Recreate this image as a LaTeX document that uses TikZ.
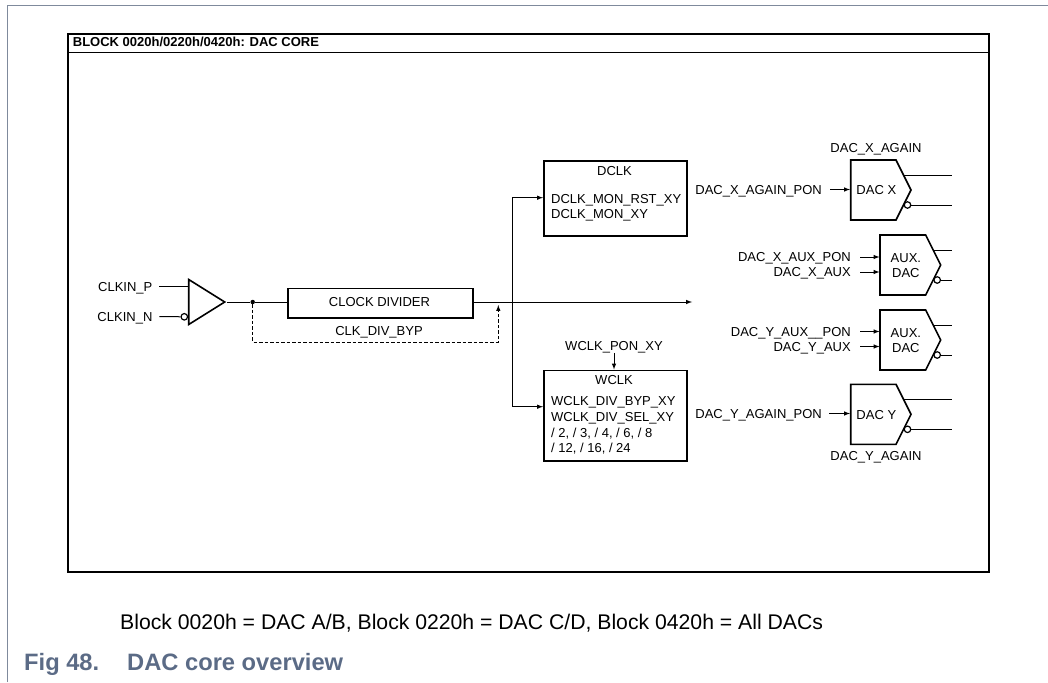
\documentclass[tikz,border=0pt]{standalone}
\usepackage{fontspec}
\setmainfont{Liberation Sans}
\usetikzlibrary{shapes.geometric}

\definecolor{capblue}{HTML}{5B6B86}
\definecolor{pagegray}{HTML}{7F8A9C}

\tikzset{
  lbl/.style={inner sep=0pt,font=\fontsize{13}{13}\selectfont,text height=9.4pt,text depth=0pt},
  lblr/.style={lbl,anchor=east},
  lbll/.style={lbl,anchor=west},
  box/.style={draw,line width=1.6pt,inner sep=0pt},
  bubble/.style={draw,circle,line width=1.2pt,fill=white,minimum size=6.5pt,inner sep=0pt},
  wire/.style={line width=1pt},
  dacbox/.style={inner sep=0pt,align=center,font=\fontsize{13}{15}\selectfont},
  captxt/.style={anchor=base west,inner sep=0pt,text=capblue,font=\fontsize{23.7}{25}\bfseries\selectfont},
}

% pentagon with two outputs: name, left x, top y, width, text
\newcommand{\dacshape}[5]{
  \draw[line width=1.6pt] (#2,#3) -- ++(#4-15,0) -- ++(15,30) -- ++(-15,30) -- ++(15-#4,0) -- cycle;
  \node[dacbox] (#1) at (#2+#4/2-4.5,#3+30.5) {#5};
  \coordinate (#1w) at (#2,#3+30);
  \coordinate (#1p) at (#2+#4-7,#3+15);
  \coordinate (#1n) at (#2+#4-3.5,#3+45);
  \node[bubble] (#1b) at (#1n) {};
}

\begin{document}
\begin{tikzpicture}[>=latex,x=1pt,y=-1pt]
\useasboundingbox (0,0) rectangle (1048,682);

% page edge
\draw[pagegray,line width=1.4pt] (7.3,682) -- (7.3,5.7) -- (1048,5.7);

% block frame
\node[box,anchor=north west,minimum width=921pt,minimum height=538pt] (frame) at (67.3,33.3) {};
\coordinate (divl) at (67.3,52.7);
\coordinate (divr) at (988.3,52.7);
\draw[line width=1.6pt] (divl) -- (divr);
\node[anchor=base west,inner sep=0pt,font=\fontsize{13}{13}\bfseries\selectfont] (title) at (72.7,47) {BLOCK 0020h/0220h/0420h: DAC CORE};

% input buffer
\node[draw,isosceles triangle,isosceles triangle stretches,minimum width=45pt,minimum height=36pt,inner sep=0pt,line width=1.6pt,anchor=apex] (buf) at (226.8,302) {};
\node[lblr] (clkinp) at (152.6,286.5) {CLKIN\_P};
\node[lblr] (clkinn) at (152.6,316.5) {CLKIN\_N};
\coordinate (bufp) at (189.3,286.5);
\node[bubble] (bufn) at (184.3,316.8) {};
\draw[wire,shorten <=6.7pt] (clkinp.east) -- (bufp);
\draw[wire,shorten <=6.7pt] (clkinn.east) -- (bufn);

% clock divider
\node[box,anchor=north west,minimum width=184.7pt,minimum height=29.6pt] (clkdiv) at (287.3,287.7) {};
\node[lbl] (clkdivt) at (379.5,301.5) {CLOCK DIVIDER};
\node[lbl] (clkbyp) at (379,331) {CLK\_DIV\_BYP};
\node[circle,fill,minimum size=4.5pt,inner sep=0pt] (split) at (252.7,302) {};
\coordinate (merge) at (498.3,302);
\coordinate (midend) at (692,302);
\coordinate (fork) at (512.7,302);
\draw[wire] (buf.apex) -- (split) -- (clkdiv.west |- split);
\draw[wire,->] (clkdiv.east |- split) -- (midend);
\draw[wire,dashed,->,dash pattern=on 3.5pt off 2pt] (split) |- (498.3,342) -- (498.3,305);

% dclk and wclk
\node[box,anchor=north west,minimum width=143pt,minimum height=75pt] (dclk) at (543,160) {};
\node[box,anchor=north west,minimum width=143pt,minimum height=90.5pt] (wclk) at (543,369.5) {};
\draw[wire,<->] (dclk.west |- 0,197.7) -- (512.7,197.7) -- (512.7,406.7) -- (wclk.west |- 0,406.7);

\node[lbl] (dclkt) at (614.5,171) {DCLK};
\node[lbll] (dclkrst) at (551,199) {DCLK\_MON\_RST\_XY};
\node[lbll] (dclkmon) at (551,214) {DCLK\_MON\_XY};
\node[lbl] (wclkpon) at (614,346) {WCLK\_PON\_XY};
\node[lbl] (wclkt) at (614,380) {WCLK};
\node[lbll] (wclkbyp) at (551,401) {WCLK\_DIV\_BYP\_XY};
\node[lbll] (wclksel) at (551,417) {WCLK\_DIV\_SEL\_XY};
\node[lbll] (wclkdiva) at (551,433) {/ 2, / 3, / 4, / 6, / 8};
\node[lbll] (wclkdivb) at (551,448) {/ 12, / 16, / 24};
\draw[wire,->,shorten <=2pt] (wclkpon.south) -- (wclk.north -| wclkpon);

% dacs
\dacshape{dacx}{850.7}{160}{60.3}{DAC X}
\dacshape{auxx}{880}{235}{60.7}{AUX.\\DAC}
\dacshape{auxy}{880}{310}{60.7}{AUX.\\DAC}
\dacshape{dacy}{850.7}{384.3}{60.3}{DAC Y}

\node[lbl] (dacxgain) at (876,148) {DAC\_X\_AGAIN};
\node[lbl] (dacygain) at (876,456) {DAC\_Y\_AGAIN};
\node[lblr] (dacxpon) at (822,189.5) {DAC\_X\_AGAIN\_PON};
\node[lblr] (dacypon) at (822,413.5) {DAC\_Y\_AGAIN\_PON};
\node[lblr] (auxxpon) at (851,257) {DAC\_X\_AUX\_PON};
\node[lblr] (auxxin) at (851,272) {DAC\_X\_AUX};
\node[lblr] (auxypon) at (851,331.5) {DAC\_Y\_AUX\_\_PON};
\node[lblr] (auxyin) at (851,346.5) {DAC\_Y\_AUX};

\draw[wire,->,shorten <=8pt] (dacxpon.east) -- (850,189.5);
\draw[wire,->,shorten <=7pt] (dacypon.east) -- (850,413.5);
\draw[wire,->,shorten <=9pt] (auxxpon.east) -- (879.5,257);
\draw[wire,->,shorten <=9pt] (auxxin.east) -- (879.5,272);
\draw[wire,->,shorten <=9pt] (auxypon.east) -- (879.5,331.5);
\draw[wire,->,shorten <=9pt] (auxyin.east) -- (879.5,346.5);

\coordinate (dacxpe) at (952,175);
\coordinate (dacxne) at (952,205);
\coordinate (auxxpe) at (952,250);
\coordinate (auxxne) at (952,280);
\coordinate (auxype) at (952,325);
\coordinate (auxyne) at (952,355);
\coordinate (dacype) at (952,399.3);
\coordinate (dacyne) at (952,429.3);
\draw[wire] (dacxp) -- (dacxpe);
\draw[wire] (dacxb) -- (dacxne);
\draw[wire] (auxxp) -- (auxxpe);
\draw[wire] (auxxb) -- (auxxne);
\draw[wire] (auxyp) -- (auxype);
\draw[wire] (auxyb) -- (auxyne);
\draw[wire] (dacyp) -- (dacype);
\draw[wire] (dacyb) -- (dacyne);

% captions
\node[anchor=base west,inner sep=0pt,font=\fontsize{21.2}{23}\selectfont] (note) at (120,629) {Block 0020h = DAC A/B, Block 0220h = DAC C/D, Block 0420h = All DACs};
\node[captxt] (figno) at (24,670.7) {Fig 48.};
\node[captxt] (figtitle) at (127,670.7) {DAC core overview};
\end{tikzpicture}
\end{document}
